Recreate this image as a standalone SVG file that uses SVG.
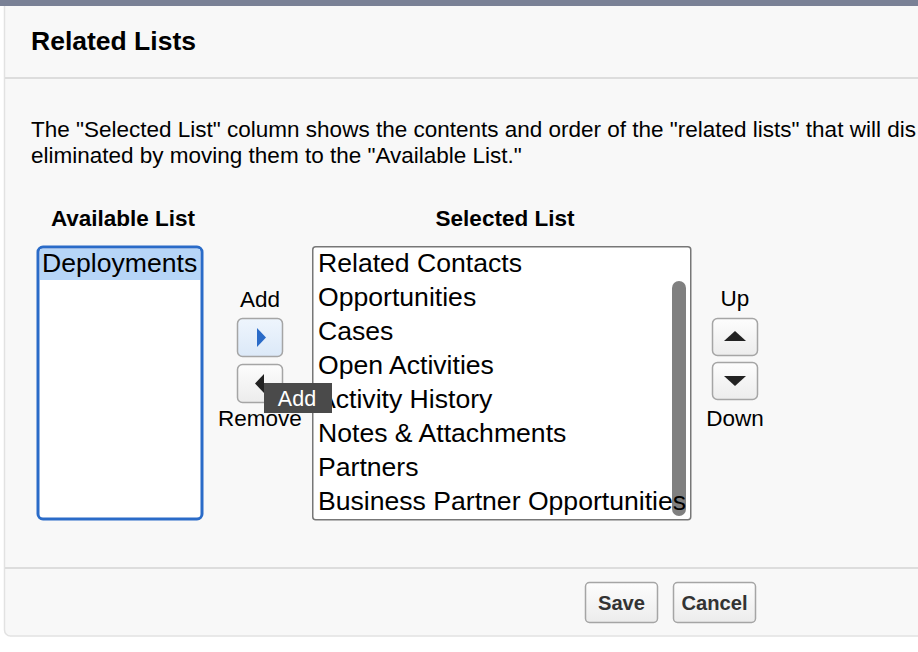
<svg xmlns="http://www.w3.org/2000/svg" width="918" height="652" viewBox="0 0 918 652">
<style>
text{font-family:"Liberation Sans",Arial,sans-serif;fill:#000}
.b{font-weight:bold}
.item{font-size:26.6px}
.lbl{font-size:22.5px;text-anchor:middle}
.btn{fill:url(#g);stroke:#a5a5a5;stroke-width:1.5}
.arrow{fill:#222}
</style>
<defs>
<linearGradient id="g" x1="0" y1="0" x2="0" y2="1"><stop offset="0" stop-color="#fdfdfd"/><stop offset="1" stop-color="#ececec"/></linearGradient>
<linearGradient id="gb" x1="0" y1="0" x2="0" y2="1"><stop offset="0" stop-color="#eef5fd"/><stop offset="1" stop-color="#dce9f8"/></linearGradient>
</defs>
<rect width="918" height="652" fill="#fff"/>
<g id="panel">
<rect x="4.5" y="-10" width="930" height="646" rx="6" fill="#f8f8f8" stroke="#e2e2e2" stroke-width="1.5"/>
<rect x="0" y="0" width="918" height="6" fill="#7a8196"/>
<rect x="5" y="77" width="913" height="2" fill="#dddddd"/>
<rect x="5" y="567" width="913" height="2" fill="#dddddd"/>
<text x="31" y="50" class="b" font-size="26.5">Related Lists</text>
<text x="31" y="137" font-size="22.5">The "Selected List" column shows the contents and order of the "related lists" that will dis</text>
<text x="31" y="163" font-size="22.5">eliminated by moving them to the "Available List."</text>
</g>
<g id="available">
<text x="123" y="226" class="b lbl">Available List</text>
<rect x="38" y="247" width="164" height="272" rx="5" fill="#fff" stroke="#2a6bc8" stroke-width="3"/>
<rect x="40" y="249" width="160" height="31" fill="#b6d5f7"/>
<text x="42" y="272" class="item">Deployments</text>
</g>
<g id="selected">
<text x="505" y="226" class="b lbl">Selected List</text>
<rect x="312.75" y="246.75" width="378" height="273" rx="3" fill="#fff" stroke="#777" stroke-width="1.5"/>
<rect x="672" y="281" width="14" height="235" rx="7" fill="#808080"/>
<text x="318" y="272" class="item">Related Contacts</text>
<text x="318" y="306" class="item">Opportunities</text>
<text x="318" y="340" class="item">Cases</text>
<text x="318" y="374" class="item">Open Activities</text>
<text x="318" y="408" class="item">Activity History</text>
<text x="318" y="442" class="item">Notes &amp; Attachments</text>
<text x="318" y="476" class="item">Partners</text>
<text x="318" y="510" class="item">Business Partner Opportunities</text>
</g>
<g id="add-remove">
<text x="260" y="307" class="lbl">Add</text>
<rect x="237.5" y="318.5" width="45" height="38" rx="5" fill="url(#gb)" stroke="#a5a5a5" stroke-width="1.5"/>
<path d="M257 328 L266 337.5 L257 347 Z" fill="#2a6bc8"/>
<rect x="237.5" y="364.5" width="45" height="38" rx="5" class="btn"/>
<path d="M264 374 L255 383.5 L264 393 Z" class="arrow"/>
<text x="260" y="426" class="lbl">Remove</text>
</g>
<g id="up-down">
<text x="735" y="306" class="lbl">Up</text>
<rect x="712.5" y="318.5" width="45" height="37" rx="5" class="btn"/>
<path d="M724 341 L735 331 L746 341 Z" class="arrow"/>
<rect x="712.5" y="362.5" width="45" height="37" rx="5" class="btn"/>
<path d="M724 376 L735 386 L746 376 Z" class="arrow"/>
<text x="735" y="426" class="lbl">Down</text>
</g>
<g id="tooltip">
<rect x="264" y="383" width="68" height="30" fill="#4a4a4a"/>
<text x="297" y="406" class="lbl" style="fill:#fff;font-size:21.5px">Add</text>
</g>
<g id="footer">
<rect x="585.5" y="582.5" width="72" height="40" rx="4" class="btn"/>
<text x="621.5" y="610" class="b lbl" style="fill:#333;font-size:20.2px">Save</text>
<rect x="673.5" y="582.5" width="82" height="40" rx="4" class="btn"/>
<text x="714.5" y="610" class="b lbl" style="fill:#333;font-size:20.2px">Cancel</text>
</g>
<g id="connectors"/>
</svg>
